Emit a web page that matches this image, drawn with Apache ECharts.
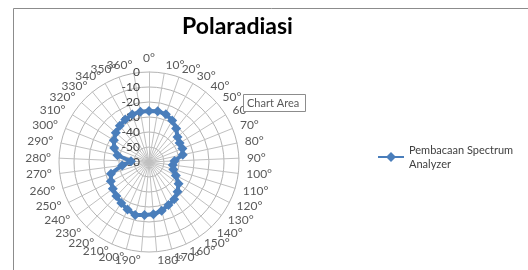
<!DOCTYPE html>
<html>
<head>
<meta charset="utf-8">
<script src="https://cdn.jsdelivr.net/npm/echarts@6/dist/echarts.min.js"></script>
<style>
  html, body { margin: 0; padding: 0; background: #fff; }
  #chart { width: 528px; height: 270px; }
</style>
</head>
<body>
<div id="chart"></div>
<script>
// angle categories as shown round the chart (Excel radar: 0..360 step 10)
var angles = ['0°', '10°', '20°', '30°', '40°', '50°', '60°', '70°', '80°', '90°',
  '100°', '110°', '120°', '130°', '140°', '150°', '160°', '170°', '180°', '190°',
  '200°', '210°', '220°', '230°', '240°', '250°', '260°', '270°', '280°', '290°',
  '300°', '310°', '320°', '330°', '340°', '350°', '360°'];

// readings in dB, one per angle
var readings = [-26, -25.7, -26.2, -28.3, -31.2, -34.7, -36, -36, -37, -43,
  -44, -43, -40, -35.5, -32.5, -30, -28.5, -26.5, -25, -24.6,
  -23.5, -25.2, -27, -28.5, -30, -31.5, -33.5, -42, -48, -38.5,
  -35, -32.5, -30.5, -29, -27.5, -26.5, -26];

var seriesName = 'Pembacaan Spectrum Analyzer';
var scaleMin = -60, scaleMax = 0;

// echarts radar runs counter-clockwise, Excel runs clockwise: keep 0 first, reverse the rest
var order = [0];
for (var i = angles.length - 1; i > 0; i--) order.push(i);

var indicator = order.map(function (k, n) {
  var ind = { name: angles[k], min: scaleMin, max: scaleMax };
  if (n === 0) ind.axisLabel = { show: true, showMinLabel: true, showMaxLabel: true };
  return ind;
});
var values = order.map(function (k) { return readings[k]; });

var chart = echarts.init(document.getElementById('chart'));
var blue = '#4A7EBB';

var option = {
  backgroundColor: '#fff',
  animation: false,
  title: {
    text: 'Polaradiasi',
    left: 177,
    top: 10,
    textStyle: { fontFamily: 'Lato', fontSize: 23, fontWeight: 'bold', color: '#000' }
  },
  legend: {
    orient: 'vertical',
    left: 373,
    top: 131,
    itemWidth: 26,
    itemHeight: 10,
    icon: 'path://M0,4 L9,4 L13,0 L17,4 L26,4 L26,6 L17,6 L13,10 L9,6 L0,6 Z',
    data: [seriesName],
    formatter: function () { return 'Pembacaan Spectrum\nAnalyzer'; },
    textStyle: { fontFamily: 'Lato', fontSize: 11, color: '#404040', lineHeight: 14, padding: [14, 0, 0, 0] }
  },
  radar: {
    center: [149, 162],
    radius: 90,
    startAngle: 90,
    shape: 'circle',
    splitNumber: 6,
    indicator: indicator,
    axisName: { color: '#595959', fontFamily: 'Lato', fontSize: 12 },
    nameGap: 8,
    axisLine: { lineStyle: { color: '#c0c0c0', width: 1 } },
    splitLine: { lineStyle: { color: '#b4b4b4', width: 1 } },
    splitArea: { show: false },
    axisTick: { show: false },
    axisLabel: { show: false, color: '#404040', fontFamily: 'Lato', fontSize: 12, margin: 9 }
  },
  series: [{
    name: seriesName,
    type: 'radar',
    symbol: 'diamond',
    symbolSize: 10,
    lineStyle: { color: blue, width: 4 },
    itemStyle: { color: blue },
    data: [{ name: seriesName, value: values }]
  }],
  graphic: [
    {
      type: 'rect', z: 100,
      shape: { x: 13.5, y: 8.5, width: 600, height: 400 },
      style: { fill: 'none', stroke: '#8c8c8c', lineWidth: 1 }
    },
    {
      type: 'rect', z: 100,
      shape: { x: 243.5, y: 94.5, width: 62, height: 17 },
      style: { fill: '#fff', stroke: '#8c8c8c', lineWidth: 1 }
    },
    {
      type: 'text', z: 101, x: 247, y: 103,
      style: { text: 'Chart Area', fill: '#595959', font: '11px Lato', verticalAlign: 'middle' }
    }
  ]
};

chart.setOption(option);
</script>
</body>
</html>
